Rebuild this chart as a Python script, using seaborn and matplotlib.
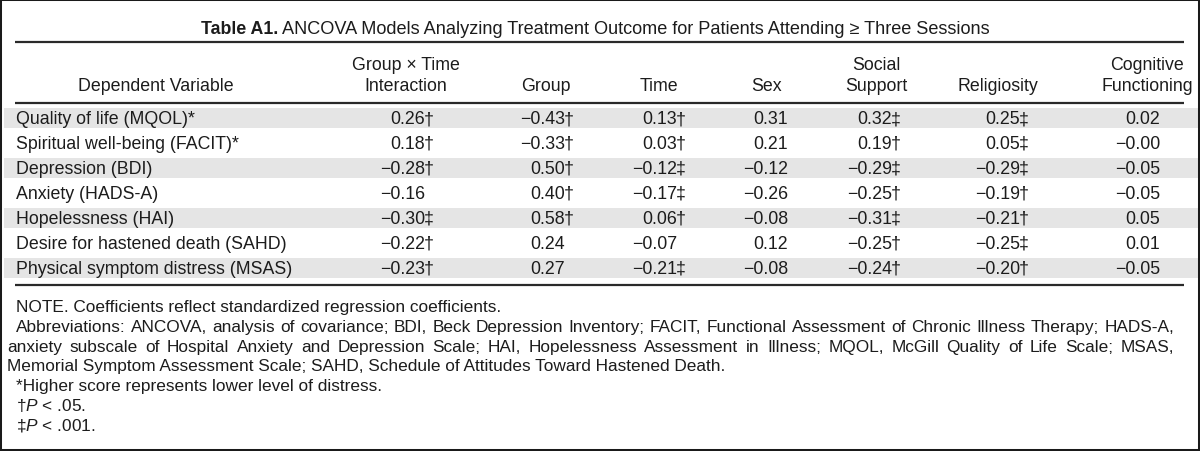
import numpy as np
import pandas as pd
import matplotlib
matplotlib.use("Agg")
import matplotlib.pyplot as plt
from matplotlib.colors import ListedColormap
from matplotlib.patches import Rectangle
import seaborn as sns

# ---------------- data ----------------
title_bold = "Table A1."
title_rest = "ANCOVA Models Analyzing Treatment Outcome for Patients Attending \u2265 Three Sessions"
stub_header = "Dependent Variable"
variables = [
    "Quality of life (MQOL)*",
    "Spiritual well-being (FACIT)*",
    "Depression (BDI)",
    "Anxiety (HADS-A)",
    "Hopelessness (HAI)",
    "Desire for hastened death (SAHD)",
    "Physical symptom distress (MSAS)",
]
predictors = ["Group \u00d7 Time\nInteraction", "Group", "Time", "Sex",
              "Social\nSupport", "Religiosity", "Cognitive\nFunctioning"]

coef_interaction = [0.26, 0.18, -0.28, -0.16, -0.30, -0.22, -0.23]
sig_interaction = ["\u2020", "\u2020", "\u2020", "", "\u2021", "\u2020", "\u2020"]
coef_group = [-0.43, -0.33, 0.50, 0.40, 0.58, 0.24, 0.27]
sig_group = ["\u2020", "\u2020", "\u2020", "\u2020", "\u2020", "", ""]
coef_time = [0.13, 0.03, -0.12, -0.17, 0.06, -0.07, -0.21]
sig_time = ["\u2020", "\u2020", "\u2021", "\u2021", "\u2020", "", "\u2021"]
coef_sex = [0.31, 0.21, -0.12, -0.26, -0.08, 0.12, -0.08]
sig_sex = ["", "", "", "", "", "", ""]
coef_social = [0.32, 0.19, -0.29, -0.25, -0.31, -0.25, -0.24]
sig_social = ["\u2021", "\u2020", "\u2021", "\u2020", "\u2021", "\u2020", "\u2020"]
coef_relig = [0.25, 0.05, -0.29, -0.19, -0.21, -0.25, -0.20]
sig_relig = ["\u2021", "\u2021", "\u2021", "\u2020", "\u2020", "\u2021", "\u2020"]
coef_cog = [0.02, -0.00, -0.05, -0.05, 0.05, 0.01, -0.05]
sig_cog = ["", "", "", "", "", "", ""]

footnotes = [
    "NOTE. Coefficients reflect standardized regression coefficients.",
    "Abbreviations: ANCOVA, analysis of covariance; BDI, Beck Depression Inventory; FACIT, Functional Assessment of Chronic Illness Therapy; HADS-A,",
    "anxiety subscale of Hospital Anxiety and Depression Scale; HAI, Hopelessness Assessment in Illness; MQOL, McGill Quality of Life Scale; MSAS,",
    "Memorial Symptom Assessment Scale; SAHD, Schedule of Attitudes Toward Hastened Death.",
    "*Higher score represents lower level of distress.",
    "\u2020$P$ < .05.",
    "\u2021$P$ < .001.",
]
footnote_indented = [True, True, False, False, True, True, True]
footnote_justified = [False, True, True, False, False, False, False]

coefs = [coef_interaction, coef_group, coef_time, coef_sex, coef_social, coef_relig, coef_cog]
sigs = [sig_interaction, sig_group, sig_time, sig_sex, sig_social, sig_relig, sig_cog]

# ---------------- style ----------------
sns.set_theme(style="white")
plt.rcParams["font.family"] = ["Liberation Sans", "DejaVu Sans"]
plt.rcParams["mathtext.fontset"] = "custom"
plt.rcParams["mathtext.it"] = "Liberation Sans:italic"
plt.rcParams["mathtext.rm"] = "Liberation Sans"

W, H = 1200, 452
fig = plt.figure(figsize=(W / 100, H / 100), dpi=100)
fig.patch.set_facecolor("white")

TXT = "#1c1c1c"
RULE = "#2a2a2a"
BAND = "#e5e5e5"
FS = 12.8
FS_NOTE = 12.4

# ---- banded rows via seaborn heatmap ----
n_rows = len(variables)
row_top, row_pitch = 105.5, 25.0
stripes = pd.DataFrame({"band": [(i + 1) % 2 for i in range(n_rows)]}, index=variables)
ax_band = fig.add_axes([0.5 / W, 1 - (row_top + n_rows * row_pitch) / H,
                        (W - 1) / W, n_rows * row_pitch / H])
sns.heatmap(stripes, ax=ax_band, cmap=ListedColormap(["white", BAND]), vmin=0, vmax=1,
            cbar=False, linewidths=3.6, linecolor="white",
            xticklabels=False, yticklabels=False)
ax_band.set_xlabel("")
ax_band.set_ylabel("")

# ---- main text layer ----
ax = fig.add_axes([0, 0, 1, 1])
ax.patch.set_alpha(0)
ax.set_xlim(0, W)
ax.set_ylim(H, 0)
ax.axis("off")

# title
ax.text(278, 34, title_bold, ha="right", va="baseline", fontsize=FS,
        fontweight="bold", color=TXT, family=["Liberation Sans Narrow", "Liberation Sans"])
ax.text(282, 34, title_rest, ha="left", va="baseline", fontsize=FS + 0.3, color=TXT)

# rules
ax.hlines([43, 103.5, 286], 15, 1184, color=RULE, lw=1.6)

# headers
ax.text(156, 91, stub_header, ha="center", va="baseline", fontsize=FS, color=TXT)
head_centers = [406, 546, 659, 767, 876, 998, 1147]
for xc, lab in zip(head_centers, predictors):
    lines = lab.split("\n")
    for k, line in enumerate(reversed(lines)):
        ax.text(xc, 91 - 21.5 * k, line, ha="center", va="baseline", fontsize=FS, color=TXT)

# body
num_edges = [425, 565, 677, 788, 892, 1020, 1160]
for i, var in enumerate(variables):
    yb = row_top + row_pitch * (i + 0.5) + 6
    ax.text(16, yb, var, ha="left", va="baseline", fontsize=FS, color=TXT)
    for j in range(len(predictors)):
        v = coefs[j][i]
        s = f"{v:.2f}".replace("-", "\u2212")
        ax.text(num_edges[j], yb, s, ha="right", va="baseline", fontsize=FS, color=TXT)
        if sigs[j][i]:
            ax.text(num_edges[j] - 1.0, yb, sigs[j][i], ha="left", va="baseline",
                    fontsize=FS, color=TXT)

# footnotes (lines 2 and 3 justified to the right margin)
renderer = fig.canvas.get_renderer()
JUST_RIGHT = 1174
for k, (line, ind, just) in enumerate(zip(footnotes, footnote_indented, footnote_justified)):
    yb = 312 + 19.8 * k
    x0 = 16 if ind else 7
    if not just:
        ax.text(x0, yb, line, ha="left", va="baseline", fontsize=FS_NOTE, color=TXT)
        continue
    words = line.split(" ")
    objs = [ax.text(0, yb, w, ha="left", va="baseline", fontsize=FS_NOTE, color=TXT)
            for w in words]
    widths = [o.get_window_extent(renderer).width for o in objs]
    gap = (JUST_RIGHT - x0 - sum(widths)) / (len(words) - 1)
    x = x0
    for o, wd in zip(objs, widths):
        o.set_x(x)
        x += wd + gap

# outer frame
fig.patches.append(Rectangle((0, 0), 1, 1, transform=fig.transFigure, fill=False,
                             edgecolor="#1a1a1a", lw=2.9, clip_on=False))

fig.savefig("out.png", dpi=100, facecolor="white")
